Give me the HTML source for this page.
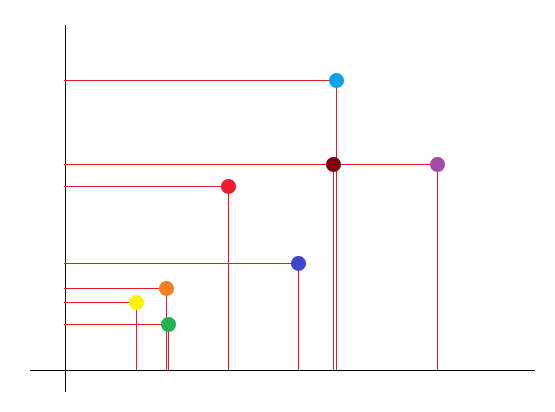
<!DOCTYPE html>
<html><head><meta charset="utf-8"><style>html,body{margin:0;padding:0;background:#fff}svg{display:block}</style></head>
<body>
<svg id="chart" width="555" height="412" xmlns="http://www.w3.org/2000/svg">
<line x1="30" y1="370.5" x2="535" y2="370.5" stroke="#000" stroke-width="1"/>
<line x1="65.5" y1="25" x2="65.5" y2="392" stroke="#000" stroke-width="1"/>
<g id="marks"></g>
</svg>
<script>
const names = ['cyan','dark-red','purple','red','blue','orange','yellow','green'];
const xVals = [27.1, 26.8, 37.2, 16.3, 23.3, 10.1, 7.1, 10.3];
const yVals = [29.0, 20.6, 20.6, 18.4, 10.7, 8.2, 6.8, 4.6];
const colors = ['#0AA3E8','#800012','#A04CA8','#EE1C2C','#3F48CC','#F58025','#FFF200','#22B14C'];
const xs = v => 65 + v * 10;
const ys = v => 370 - v * 10;
const g = document.getElementById('marks');
const NS = 'http://www.w3.org/2000/svg';
for (let i = 0; i < xVals.length; i++) {
  const cx = Math.round(xs(xVals[i])) + 0.5, cy = Math.round(ys(yVals[i])) + 0.5;
  const h = document.createElementNS(NS, 'line');
  
  
  h.setAttribute('x1', 64); h.setAttribute('x2', cx);
  h.setAttribute('y1', cy); h.setAttribute('y2', cy);
  h.setAttribute('stroke', '#E41E26'); h.setAttribute('stroke-width', 1);
  g.appendChild(h);
  const v = document.createElementNS(NS, 'line');
  
  
  v.setAttribute('x1', cx); v.setAttribute('x2', cx);
  v.setAttribute('y1', cy); v.setAttribute('y2', 370);
  v.setAttribute('stroke', '#E41E26'); v.setAttribute('stroke-width', 1);
  g.appendChild(v);
}
for (let i = 0; i < xVals.length; i++) {
  const c = document.createElementNS(NS, 'circle');
  
  
  c.setAttribute('cx', xs(xVals[i]) + 0.5); c.setAttribute('cy', ys(yVals[i]) + 0.5);
  c.setAttribute('r', 7.5); c.setAttribute('fill', colors[i]);
  g.appendChild(c);
}
</script>
</body></html>
